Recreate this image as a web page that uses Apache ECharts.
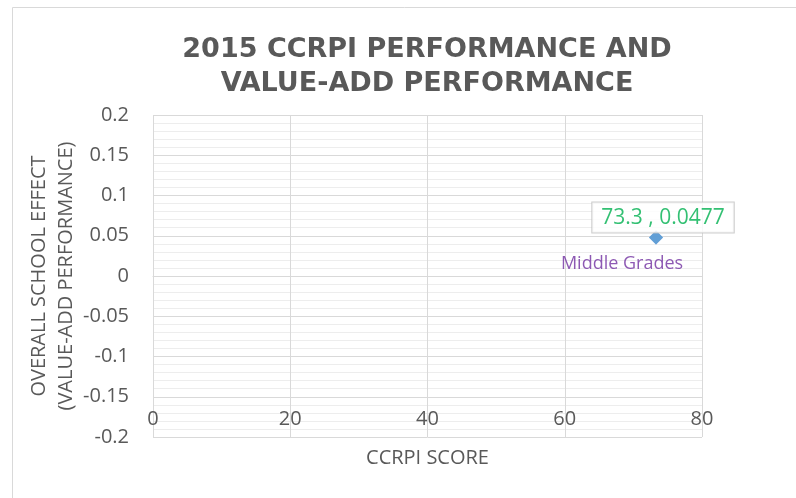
<!DOCTYPE html>
<html lang="en">
<head>
    <meta charset="UTF-8">
    <title>2015 CCRPI Performance and Value-Add Performance</title>
    <script src="https://cdn.jsdelivr.net/npm/echarts@6/dist/echarts.min.js"></script>
    <style>
        html, body { margin: 0; padding: 0; background: #fff; }
    </style>
</head>
<body>
    <div id="main" style="width: 796px;height:498px;"></div>
<script type="text/javascript">
    // data
    var ccrpiScores = [73.3];
    var schoolEffects = [0.0477];
    var groupNames = ['Middle Grades'];

    var points = [];
    for (var i = 0; i < ccrpiScores.length; i++) {
        points.push({ name: groupNames[i], value: [ccrpiScores[i], schoolEffects[i]] });
    }

    var font = 'Open Sans';
    var grey = '#595959';

    var myChart = echarts.init(document.getElementById('main'));
    myChart.setOption({
        animation: false,
        title: {
            text: '2015 CCRPI PERFORMANCE AND\nVALUE-ADD PERFORMANCE',
            left: 422,
            top: 28,
            textAlign: 'center',
            textStyle: {
                fontFamily: 'DejaVu Sans',
                fontWeight: 'bold',
                fontSize: 27,
                lineHeight: 34,
                color: grey
            }
        },
        graphic: [{
            type: 'rect',
            silent: true,
            shape: { x: 12.5, y: 7.5, width: 820, height: 520 },
            style: { fill: null, stroke: '#D9D9D9', lineWidth: 1 }
        }],
        grid: { left: 153, right: 94, top: 115, bottom: 61 },
        xAxis: {
            type: 'value',
            min: 0,
            max: 80,
            interval: 20,
            offset: -47,
            name: 'CCRPI SCORE',
            nameLocation: 'middle',
            nameGap: 58,
            nameTextStyle: { fontFamily: font, fontSize: 20, color: grey },
            axisLine: { show: true, lineStyle: { color: '#D9D9D9', width: 1 } },
            axisTick: { show: false },
            axisLabel: { fontFamily: font, fontSize: 20, color: grey, margin: 19 },
            splitLine: { show: true, lineStyle: { color: '#D9D9D9', width: 1 } }
        },
        yAxis: {
            type: 'value',
            min: -0.2,
            max: 0.2,
            interval: 0.05,
            name: 'OVERALL SCHOOL EFFECT\n(VALUE-ADD PERFORMANCE)',
            nameLocation: 'middle',
            nameRotate: 90,
            nameGap: 73,
            nameMoveOverlap: false,
            nameTextStyle: { fontFamily: font, fontSize: 20, lineHeight: 27, color: grey },
            axisLine: { show: false },
            axisTick: { show: false },
            axisLabel: {
                fontFamily: font, fontSize: 20, color: grey, margin: 24,
                formatter: function (v) { return String(Math.round(v * 100) / 100); }
            },
            splitLine: { show: true, lineStyle: { color: '#D9D9D9', width: 1 } },
            minorTick: { show: false, splitNumber: 5 },
            minorSplitLine: { show: true, lineStyle: { color: '#EDEDED', width: 1 } }
        },
        series: [{
            name: 'value label',
            type: 'scatter',
            symbol: 'diamond',
            symbolSize: 14,
            itemStyle: { color: '#5B9BD5' },
            data: points,
            label: {
                show: true,
                position: 'top',
                distance: 2,
                offset: [7, 4],
                formatter: function (p) { return p.value[0] + ' , ' + p.value[1]; },
                fontFamily: font,
                fontSize: 21,
                color: '#00B050',
                backgroundColor: '#fff',
                borderColor: '#BFBFBF',
                borderWidth: 1,
                padding: [5, 9, 4, 9]
            }
        }, {
            name: 'name label',
            type: 'scatter',
            symbol: 'diamond',
            symbolSize: 14,
            itemStyle: { color: '#5B9BD5' },
            data: points,
            label: {
                show: true,
                position: 'bottom',
                distance: 10,
                offset: [-34, 0],
                formatter: '{b}',
                fontFamily: font,
                fontSize: 18,
                color: '#7030A0'
            }
        }]
    });
</script>
</body>
</html>
